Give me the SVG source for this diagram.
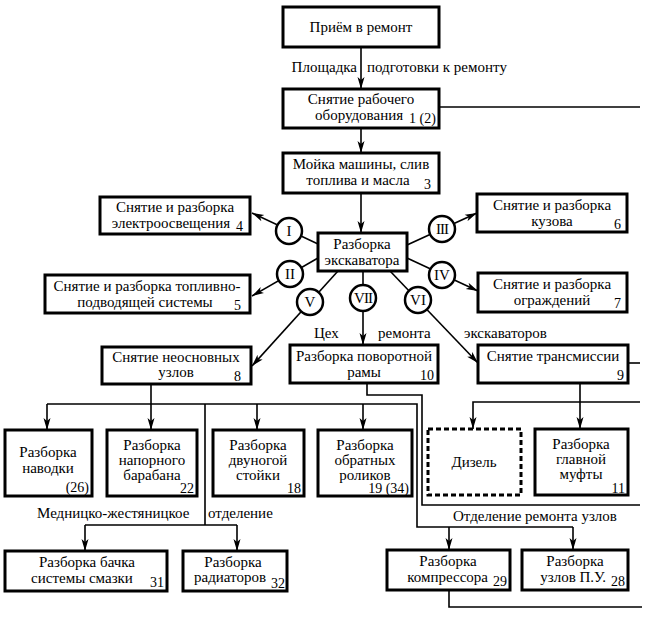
<svg xmlns="http://www.w3.org/2000/svg" width="660" height="633" viewBox="0 0 660 633" font-family="'Liberation Serif', 'DejaVu Serif', serif">
<style>
text{font-family:'Liberation Serif','DejaVu Serif',serif;font-size:15px;fill:#000}
.c{text-anchor:middle}
.e{text-anchor:end}
.n{font-size:14px}
.box{fill:#fff;stroke:#000;stroke-width:3}
.dash{fill:#fff;stroke:#000;stroke-width:3;stroke-dasharray:5 3}
.ln{fill:none;stroke:#000;stroke-width:1.6}
.circ{fill:#fff;stroke:#000;stroke-width:2.5}
</style>
<defs>
<marker id="ar" viewBox="0 0 12 8" refX="12" refY="4" markerWidth="12" markerHeight="8" markerUnits="userSpaceOnUse" orient="auto">
<path d="M0,0.5 L12,4 L0,7.5 L3,4 Z" fill="#000"/>
</marker>
</defs>
<g id="connectors" class="ln">
<path d="M361,47 V89" marker-end="url(#ar)"/>
<path d="M361,128 V153" marker-end="url(#ar)"/>
<path d="M361,193 V233" marker-end="url(#ar)"/>
<path d="M439,107 H640"/>
<path d="M318,244 L252,213" marker-end="url(#ar)"/>
<path d="M318,258 L252,296" marker-end="url(#ar)"/>
<path d="M407,245 L477,213" marker-end="url(#ar)"/>
<path d="M407,258 L478,291" marker-end="url(#ar)"/>
<path d="M338,271 L252,366" marker-end="url(#ar)"/>
<path d="M363,271 V345" marker-end="url(#ar)"/>
<path d="M390,271 L478,363" marker-end="url(#ar)"/>
<path d="M151,384 V430" marker-end="url(#ar)"/>
<path d="M47,404 H417 V527 H573"/>
<path d="M47,404 V430" marker-end="url(#ar)"/>
<path d="M257,404 V430" marker-end="url(#ar)"/>
<path d="M363,404 V430" marker-end="url(#ar)"/>
<path d="M449,527 V550" marker-end="url(#ar)"/>
<path d="M573,527 V550" marker-end="url(#ar)"/>
<path d="M205,404 V525 M85,525 H237"/>
<path d="M85,525 V551" marker-end="url(#ar)"/>
<path d="M237,525 V551" marker-end="url(#ar)"/>
<path d="M367,383 V395 H422 V505 H640"/>
<path d="M628,363 H640"/>
<path d="M580,383 V429" marker-end="url(#ar)"/>
<path d="M640,402 H473 V429" marker-end="url(#ar)"/>
<path d="M449,590 V607 H642"/>
</g>
<g id="labels">
<text class="e" x="357" y="72">Площадка</text>
<text x="367" y="72">подготовки к ремонту</text>
<text x="314" y="338">Цех</text>
<text x="378" y="338">ремонта</text>
<text x="464" y="338">экскаваторов</text>
<text x="37" y="518">Медницко-жестяницкое</text>
<text x="208" y="518">отделение</text>
<text x="453" y="521">Отделение ремонта узлов</text>
</g>
<g id="circles">
<g id="cI"><circle class="circ" cx="289" cy="231" r="13"/><text class="c" x="289" y="236">I</text></g>
<g id="cII"><circle class="circ" cx="290" cy="274" r="13"/><text class="c" x="290" y="279">II</text></g>
<g id="cIII"><circle class="circ" cx="442" cy="229" r="13"/><text class="c" x="442" y="234" letter-spacing="-1">III</text></g>
<g id="cIV"><circle class="circ" cx="442" cy="275" r="13"/><text class="c" x="442" y="280">IV</text></g>
<g id="cV"><circle class="circ" cx="310" cy="302" r="13"/><text class="c" x="310" y="307">V</text></g>
<g id="cVII"><circle class="circ" cx="363" cy="298" r="13"/><text class="c" x="363" y="303" letter-spacing="-1">VII</text></g>
<g id="cVI"><circle class="circ" cx="418" cy="300" r="13"/><text class="c" x="418" y="305">VI</text></g>
</g>
<g id="n0"><rect class="box" x="283" y="7" width="156" height="40"/><text class="c" x="361" y="32">Приём в ремонт</text></g>
<g id="n1"><rect class="box" x="283" y="89" width="156" height="39"/><text class="c" x="361" y="104">Снятие рабочего</text><text x="315" y="120">оборудования</text><text class="n" x="409" y="123">1 (2)</text></g>
<g id="n3"><rect class="box" x="283" y="153" width="156" height="40"/><text class="c" x="361" y="169">Мойка машины, слив</text><text class="c" x="358" y="185">топлива и масла</text><text class="n" x="424" y="189">3</text></g>
<g id="nc"><rect class="box" x="318" y="233" width="89" height="38"/><text class="c" x="362" y="249">Разборка</text><text class="c" x="362" y="265">экскаватора</text></g>
<g id="n4"><rect class="box" x="100" y="197" width="150" height="37"/><text class="c" x="175" y="212">Снятие и разборка</text><text class="c" x="171" y="228">электроосвещения</text><text class="n" x="236" y="231">4</text></g>
<g id="n5"><rect class="box" x="45" y="275" width="205" height="38"/><text class="c" x="147" y="291">Снятие и  разборка  топливно-</text><text class="c" x="145" y="307">подводящей системы</text><text class="n" x="234" y="310">5</text></g>
<g id="n6"><rect class="box" x="477" y="194" width="150" height="38"/><text class="c" x="552" y="210">Снятие и разборка</text><text class="c" x="552" y="226">кузова</text><text class="n" x="614" y="229">6</text></g>
<g id="n7"><rect class="box" x="478" y="273" width="149" height="39"/><text class="c" x="552" y="289">Снятие и разборка</text><text class="c" x="552" y="305">ограждений</text><text class="n" x="614" y="308">7</text></g>
<g id="n8"><rect class="box" x="102" y="347" width="149" height="37"/><text class="c" x="176" y="362">Снятие неосновных</text><text class="c" x="176" y="377">узлов</text><text class="n" x="234" y="381">8</text></g>
<g id="n10"><rect class="box" x="290" y="345" width="148" height="38"/><text class="c" x="364" y="361">Разборка поворотной</text><text class="c" x="364" y="377">рамы</text><text class="n e" x="434" y="380">10</text></g>
<g id="n9"><rect class="box" x="478" y="345" width="150" height="38"/><text class="c" x="553" y="361">Снятие трансмиссии</text><text class="n e" x="624" y="380">9</text></g>
<g id="n26"><rect class="box" x="5" y="430" width="87" height="66"/><text class="c" x="48" y="457">Разборка</text><text class="c" x="48" y="473">наводки</text><text class="n e" x="89" y="492">(26)</text></g>
<g id="n22"><rect class="box" x="107" y="430" width="90" height="66"/><text class="c" x="152" y="450">Разборка</text><text class="c" x="152" y="465">напорного</text><text class="c" x="152" y="480">барабана</text><text class="n e" x="194" y="493">22</text></g>
<g id="n18"><rect class="box" x="213" y="430" width="91" height="66"/><text class="c" x="258" y="450">Разборка</text><text class="c" x="258" y="465">двуногой</text><text class="c" x="258" y="480">стойки</text><text class="n e" x="301" y="493">18</text></g>
<g id="n19"><rect class="box" x="318" y="430" width="94" height="66"/><text class="c" x="365" y="450">Разборка</text><text class="c" x="365" y="465">обратных</text><text class="c" x="365" y="480">роликов</text><text class="n e" x="409" y="493">19 (34)</text></g>
<g id="nd"><rect class="dash" x="428" y="429" width="93" height="66"/><text class="c" x="474" y="467">Дизель</text></g>
<g id="n11"><rect class="box" x="535" y="429" width="93" height="66"/><text class="c" x="581" y="449">Разборка</text><text class="c" x="581" y="464">главной</text><text class="c" x="581" y="479">муфты</text><text class="n e" x="625" y="493">11</text></g>
<g id="n31"><rect class="box" x="5" y="551" width="162" height="40"/><text class="c" x="87" y="567">Разборка бачка</text><text class="c" x="82" y="583">системы  смазки</text><text class="n e" x="164" y="587">31</text></g>
<g id="n32"><rect class="box" x="183" y="551" width="104" height="40"/><text class="c" x="233" y="567">Разборка</text><text class="e" x="266" y="582">радиаторов</text><text class="n e" x="285" y="588">32</text></g>
<g id="n29"><rect class="box" x="387" y="550" width="123" height="40"/><text class="c" x="448" y="566">Разборка</text><text class="e" x="488" y="582">компрессора</text><text class="n e" x="507" y="586">29</text></g>
<g id="n28"><rect class="box" x="522" y="550" width="106" height="40"/><text class="c" x="575" y="566">Разборка</text><text class="e" x="606" y="582">узлов  П.У.</text><text class="n e" x="625" y="586">28</text></g>
</svg>
